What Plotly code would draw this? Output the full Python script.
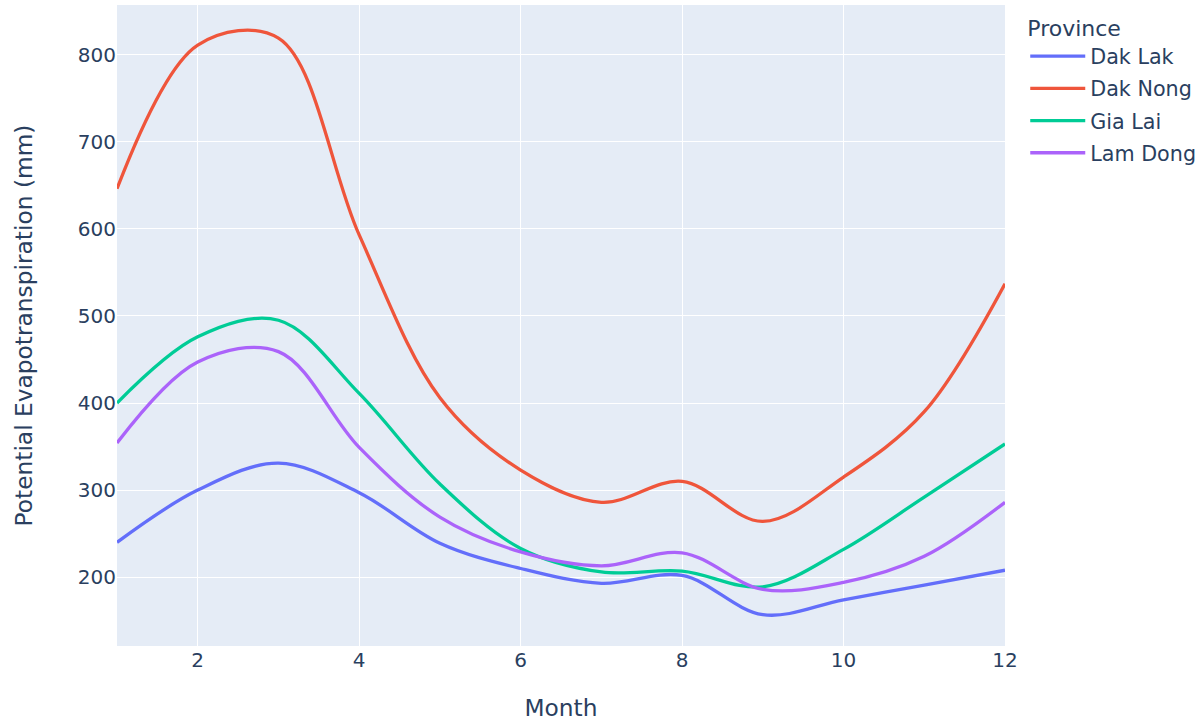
import plotly.graph_objects as go

months = list(range(1, 13))
provinces = ["Dak Lak", "Dak Nong", "Gia Lai", "Lam Dong"]
dak_lak = [240, 300, 331, 297, 239, 210, 193, 202, 157, 174, 191, 208]
dak_nong = [646, 811, 819, 593, 406, 323, 286, 310, 264, 315, 390, 537]
gia_lai = [400, 476, 495, 411, 307, 233, 206, 207, 189, 232, 292, 353]
lam_dong = [354, 447, 459, 349, 269, 229, 213, 228, 186, 194, 224, 286]
series = [dak_lak, dak_nong, gia_lai, lam_dong]
colors = ["#636efa", "#EF553B", "#00cc96", "#ab63fa"]

FONT = "Verdana, DejaVu Sans, sans-serif"

fig = go.Figure()
for name, vals, c in zip(provinces, series, colors):
    fig.add_trace(go.Scatter(x=months, y=vals, mode="lines", name=name, legendgroup=name,
                             line=dict(color=c, width=3.3, shape="spline")))

fig.update_layout(
    width=1203, height=723,
    template="plotly",
    font=dict(family=FONT, size=20, color="#2a3f5f"),
    margin=dict(l=117, r=198, t=5, b=77, autoexpand=False),
    legend=dict(title=dict(text="Province", font=dict(size=22)), font=dict(size=20.7),
                itemwidth=55, x=1.0228, xanchor="left", y=0.996, yanchor="top",
                tracegroupgap=2.3),
    xaxis=dict(title=dict(text="Month", font=dict(size=23.3), standoff=28), range=[1, 12],
               automargin=False),
    yaxis=dict(title=dict(text="Potential Evapotranspiration (mm)", font=dict(size=23.3),
                          standoff=38),
               range=[121, 857], automargin=False),
)
fig.write_html("out.html", config={"displayModeBar": False},
               post_script="document.body.style.margin='0px';")
